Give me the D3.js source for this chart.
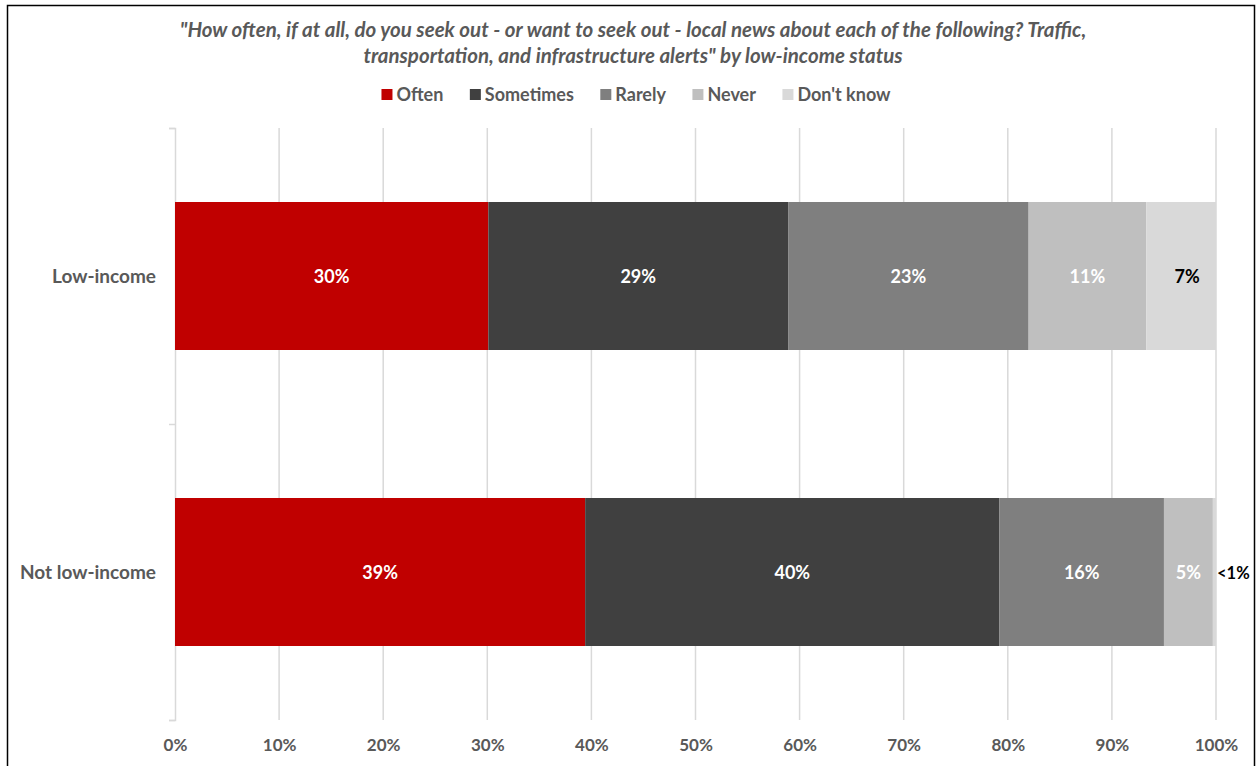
<!DOCTYPE html>
<html>
<head>
<meta charset="utf-8">
<script src="https://cdn.jsdelivr.net/npm/d3@7"></script>
<style>
body { margin: 0; background: #fff; }
svg { display: block; font-family: Lato, "Open Sans", sans-serif; }
</style>
</head>
<body>
<div class="chart"></div>
<script>
// data
var groups = ["Low-income", "Not low-income"];
var answers = ["Often", "Sometimes", "Rarely", "Never", "Don't know"];
var lowIncome = [30.1, 28.8, 23.1, 11.3, 6.7];
var notLowIncome = [39.4, 39.8, 15.8, 4.7, 0.3];
var lowIncomeLabels = ["30%", "29%", "23%", "11%", "7%"];
var notLowIncomeLabels = ["39%", "40%", "16%", "5%", "<1%"];
var xTicks = [0, 10, 20, 30, 40, 50, 60, 70, 80, 90, 100];
var colors = ["#c00000", "#404040", "#7f7f7f", "#bfbfbf", "#d9d9d9"];

var width = 1257, height = 766;
var padding = {left: 175, right: 41, top: 128, bottom: 46};

var svg = d3.select(".chart").append("svg")
            .attr("width", width)
            .attr("height", height);

// frame
svg.append("rect")
   .attr("x", 7.5).attr("y", 5.5)
   .attr("width", 1247).attr("height", 800)
   .attr("fill", "none").attr("stroke", "#000").attr("stroke-width", 1.5);

// scales
var xScale = d3.scaleLinear().domain([0, 100]).range([padding.left, width - padding.right]);
var yScale = d3.scaleBand().domain(groups)
               .range([padding.top, height - padding.bottom])
               .paddingInner(0.5).paddingOuter(0.25);

// gridlines
svg.append("g").selectAll("line").data(xTicks.slice(1)).enter().append("line")
   .attr("x1", function(d) { return xScale(d); })
   .attr("x2", function(d) { return xScale(d); })
   .attr("y1", padding.top).attr("y2", height - padding.bottom)
   .attr("stroke", "#d9d9d9").attr("stroke-width", 1.5);

// y axis (band edges as ticks)
var yEdge = d3.scaleLinear().domain([0, groups.length]).range([padding.top, height - padding.bottom]);
var yAxis = d3.axisLeft(yEdge).ticks(groups.length).tickSize(6).tickFormat("");
svg.append("g").attr("class", "yaxis")
   .attr("transform", "translate(" + padding.left + ",0)")
   .call(yAxis)
   .call(function(g) {
       g.selectAll("path, line").attr("stroke", "#d9d9d9").attr("stroke-width", 1.5);
   });

// x axis labels
var xAxis = d3.axisBottom(xScale).tickValues(xTicks).tickSize(0).tickPadding(0)
              .tickFormat(function(d) { return d + "%"; });
svg.append("g").attr("class", "xaxis")
   .attr("transform", "translate(0," + (height - padding.bottom + 19) + ")")
   .call(xAxis)
   .call(function(g) {
       g.select(".domain").remove();
       g.selectAll("text").attr("fill", "#595959")
        .style("font-size", "17px").style("font-weight", "bold")
        .style("font-family", "Lato, 'Open Sans', sans-serif");
   });

// category labels
svg.append("g").selectAll("text").data(groups).enter().append("text")
   .attr("x", padding.left - 19)
   .attr("y", function(d) { return yScale(d) + yScale.bandwidth() / 2 + 7; })
   .attr("text-anchor", "end")
   .attr("fill", "#595959")
   .style("font-size", "19px").style("font-weight", "bold")
   .text(function(d) { return d; });

// stacked rows
var rows = [
    {group: groups[0], values: lowIncome, labels: lowIncomeLabels},
    {group: groups[1], values: notLowIncome, labels: notLowIncomeLabels}
];

rows.forEach(function(row) {
    var start = 0;
    var segs = row.values.map(function(v, i) {
        var s = {start: start, end: start + v, label: row.labels[i], i: i};
        start += v;
        return s;
    });
    var g = svg.append("g");
    g.selectAll("rect").data(segs).enter().append("rect")
     .attr("x", function(d) { return xScale(d.start); })
     .attr("width", function(d) { return xScale(d.end) - xScale(d.start); })
     .attr("y", yScale(row.group))
     .attr("height", yScale.bandwidth())
     .attr("fill", function(d) { return colors[d.i]; });

    g.selectAll("text").data(segs).enter().append("text")
     .attr("x", function(d) {
         var w = xScale(d.end) - xScale(d.start);
         if (w < 10) return xScale(d.end) + 1;
         return (xScale(d.start) + xScale(d.end)) / 2 + (d.i == 4 ? 6 : 0);
     })
     .attr("y", yScale(row.group) + yScale.bandwidth() / 2 + 7)
     .attr("text-anchor", function(d) { return (xScale(d.end) - xScale(d.start)) < 10 ? "start" : "middle"; })
     .attr("fill", function(d) { return d.i == 4 ? "#000" : "#fff"; })
     .style("font-size", function(d) { return (xScale(d.end) - xScale(d.start)) < 10 ? "16.5px" : "18px"; })
     .style("font-weight", "bold")
     .text(function(d) { return d.label; });
});

// title
var title = svg.append("text")
   .attr("text-anchor", "middle")
   .attr("fill", "#595959")
   .style("font-size", "20.5px").style("font-weight", "bold").style("font-style", "italic");
title.append("tspan").attr("x", 633).attr("y", 37)
   .text("\"How often, if at all, do you seek out - or want to seek out - local news about each of the following? Traffic,");
title.append("tspan").attr("x", 633).attr("y", 63)
   .text("transportation, and infrastructure alerts\" by low-income status");

// legend
var legend = svg.append("g");
var items = legend.selectAll("g").data(answers).enter().append("g");
items.append("rect").attr("width", 11).attr("height", 11).attr("y", -12)
     .attr("fill", function(d, i) { return colors[i]; });
items.append("text").attr("x", 15)
     .attr("fill", "#595959")
     .style("font-size", "18px").style("font-weight", "bold")
     .text(function(d) { return d; });
var lx = 0;
items.each(function() {
    var w = this.querySelector("text").getComputedTextLength();
    d3.select(this).attr("transform", "translate(" + lx + ",0)");
    lx += 15 + w + 26.5;
});
lx -= 26.5;
legend.attr("transform", "translate(" + (636 - lx / 2) + ",101)");
</script>
</body>
</html>
